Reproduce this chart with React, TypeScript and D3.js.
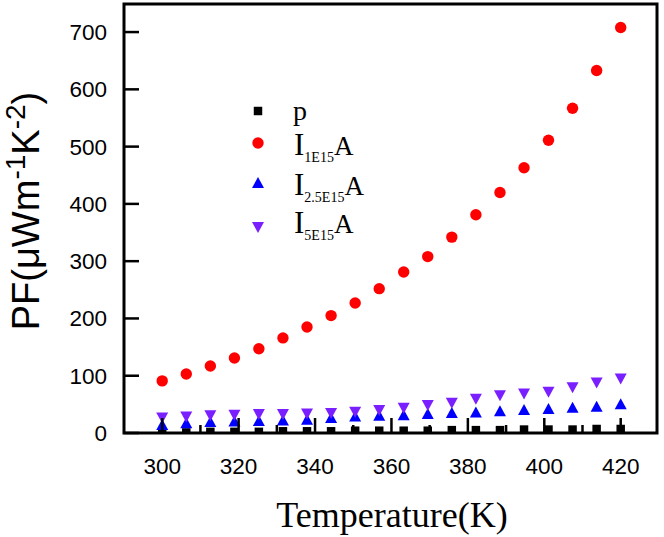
import React from 'react';
import * as d3 from 'd3';

const temperature = [300, 306.3, 312.6, 318.9, 325.3, 331.6, 337.9, 344.2, 350.5, 356.8, 363.2, 369.5, 375.8, 382.1, 388.4, 394.7, 401.1, 407.4, 413.7, 420];
const pSeries = [1, 1, 2, 2, 2, 3, 3, 3, 4, 4, 4, 4, 5, 5, 5, 6, 6, 6, 7, 7];
const i1E15 = [91, 103, 117, 131, 147, 166, 185, 205, 227, 252, 281, 308, 342, 381, 420, 463, 511, 567, 633, 708];
const i25E15 = [14, 17, 19, 20, 21, 22, 23, 26, 29, 30, 31, 33, 35, 36, 38, 40, 42, 44, 46, 50];
const i5E15 = [27, 29, 31, 32, 33, 33, 34, 35, 37, 40, 44, 49, 53, 60, 66, 69, 72, 80, 88, 95];
const xMajorTicks = [300, 320, 340, 360, 380, 400, 420];
const xMinorTicks = [290, 310, 330, 350, 370, 390, 410];
const yTicks = [0, 100, 200, 300, 400, 500, 600, 700];

const SANS = '"Liberation Sans", Arial, sans-serif';
const SERIF = '"Liberation Serif", "Times New Roman", serif';
const RED = '#ff0000';
const BLUE = '#0000ff';
const PURPLE = '#7a1fff';

const L = 124, R = 657, T = 4, B = 433;

export default function App() {
  const x = d3.scaleLinear().domain([290, 429.5]).range([L, R]);
  const y = d3.scaleLinear().domain([0, 749]).range([B, T]);

  const sq = d3.symbol().type(d3.symbolSquare).size(72)() as string;
  const circ = d3.symbol().type(d3.symbolCircle).size(Math.PI * 5.7 * 5.7)() as string;
  const tri = 'M0,-6L6,5L-6,5Z';
  const triDown = 'M0,6L6,-5L-6,-5Z';

  const series = [
    { data: pSeries, path: sq, color: '#000000' },
    { data: i1E15, path: circ, color: RED },
    { data: i25E15, path: tri, color: BLUE },
    { data: i5E15, path: triDown, color: PURPLE },
  ];

  return (
    <svg width={664} height={537} style={{ position: 'absolute', left: 0, top: 0, background: '#fff' }}>
      <defs>
        <clipPath id="plot"><rect x={L} y={T} width={R - L} height={B - T} /></clipPath>
      </defs>
      <g clipPath="url(#plot)">
        {series.map((s, si) => (
          <g key={si}>
            {s.data.map((v, i) => (
              <path key={i} d={s.path} fill={s.color} transform={`translate(${x(temperature[i])},${y(v)})`} />
            ))}
          </g>
        ))}
      </g>
      {xMajorTicks.map((t) => (
        <line key={'xm' + t} x1={x(t)} x2={x(t)} y1={B} y2={B - 15} stroke="#000" strokeWidth={2.5} />
      ))}
      {xMinorTicks.filter((t) => x(t) > L + 2).map((t) => (
        <line key={'xn' + t} x1={x(t)} x2={x(t)} y1={B} y2={B - 8} stroke="#000" strokeWidth={2.5} />
      ))}
      {yTicks.map((t) => (
        <line key={'ym' + t} x1={L} x2={L + 15} y1={y(t)} y2={y(t)} stroke="#000" strokeWidth={2.5} />
      ))}
      <rect x={L} y={T} width={R - L} height={B - T} fill="none" stroke="#000" strokeWidth={3} />
      {xMajorTicks.map((t) => (
        <text key={'xl' + t} x={x(t)} y={474} textAnchor="middle" fontFamily={SANS} fontSize={22.5} fill="#000">{t}</text>
      ))}
      {yTicks.map((t) => (
        <text key={'yl' + t} x={107} y={y(t) + 8} textAnchor="end" fontFamily={SANS} fontSize={22.5} fill="#000">{t}</text>
      ))}
      <text x={392} y={527} textAnchor="middle" fontFamily={SERIF} fontSize={36} fill="#000">Temperature(K)</text>
      <text transform="translate(39,211) rotate(-90)" textAnchor="middle" fontFamily={SANS} fontSize={38} fill="#000">
        PF(μWm<tspan fontSize={28} dy={-14}>-1</tspan><tspan dy={14}>K</tspan><tspan fontSize={28} dy={-14}>-2</tspan><tspan dy={14}>)</tspan>
      </text>
      <path d={sq} fill="#000" transform="translate(258,111)" />
      <path d={circ} fill={RED} transform="translate(258,143)" />
      <path d={tri} fill={BLUE} transform="translate(258,183)" />
      <path d={triDown} fill={PURPLE} transform="translate(258,227)" />
      <text x={293} y={120} fontFamily={SERIF} fontSize={28} fill="#000">p</text>
      <text x={294} y={155} fontFamily={SERIF} fill="#000">
        <tspan fontSize={31}>I</tspan><tspan fontSize={14} dy={6.5}>1E15</tspan><tspan fontSize={27} dy={-6.5}>A</tspan>
      </text>
      <text x={294} y={195} fontFamily={SERIF} fill="#000">
        <tspan fontSize={31}>I</tspan><tspan fontSize={14} dy={6.5}>2.5E15</tspan><tspan fontSize={27} dy={-6.5}>A</tspan>
      </text>
      <text x={294} y={233} fontFamily={SERIF} fill="#000">
        <tspan fontSize={31}>I</tspan><tspan fontSize={14} dy={6.5}>5E15</tspan><tspan fontSize={27} dy={-6.5}>A</tspan>
      </text>
    </svg>
  );
}
